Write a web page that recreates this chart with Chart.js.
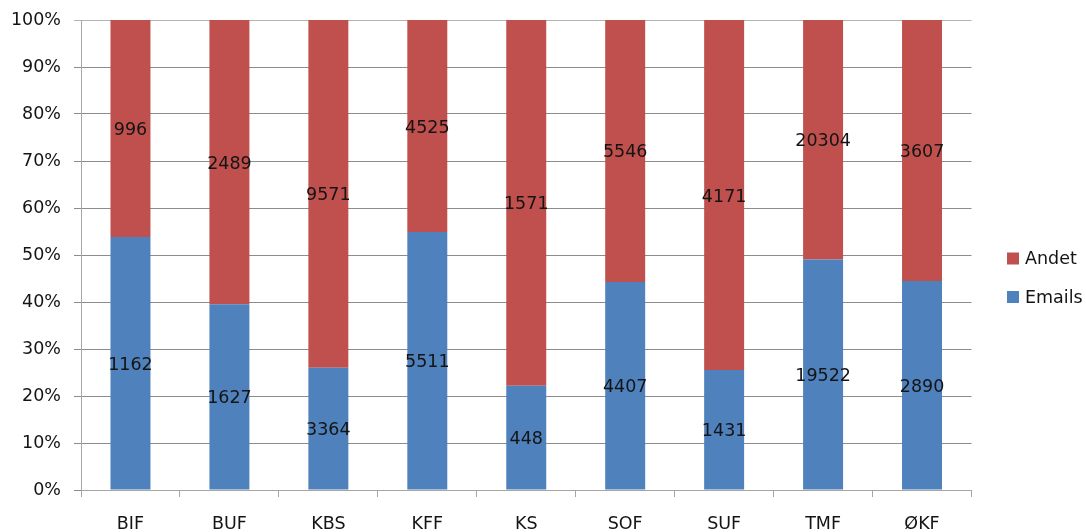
<!DOCTYPE html>
<html>
<head>
<meta charset="utf-8">
<title>Emails og andet pr. forvaltning</title>
<script src="https://cdn.jsdelivr.net/npm/chart.js@4.4.1/dist/chart.umd.min.js"></script>
<style>
  html, body { margin: 0; padding: 0; background: #ffffff; }
  #wrap { width: 1086px; height: 532px; position: relative; }
</style>
</head>
<body>
<div id="wrap"><canvas id="c" width="1086" height="532"></canvas></div>
<script>
// Departments along the x axis
const categories = ['BIF', 'BUF', 'KBS', 'KFF', 'KS', 'SOF', 'SUF', 'TMF', 'ØKF'];
// Absolute counts per department
const emails = [1162, 1627, 3364, 5511, 448, 4407, 1431, 19522, 2890];
const andet  = [996, 2489, 9571, 4525, 1571, 5546, 4171, 20304, 3607];
// Y axis ticks (percent of each department's total)
const yTicks = [0, 10, 20, 30, 40, 50, 60, 70, 80, 90, 100];

const FONT = 'DejaVu Sans';
const TEXT = '#141414';
const BLUE = '#4f81bd';
const RED = '#c0504d';

// Each bar is normalised to 100 %, the raw count is kept for the label
const totals = emails.map((v, i) => v + andet[i]);
const pct = arr => arr.map((v, i) => v / totals[i] * 100);

// Centred value labels showing the raw counts
const valueLabels = {
  id: 'valueLabels',
  afterDatasetsDraw(chart) {
    const ctx = chart.ctx;
    ctx.save();
    ctx.font = '17.5px "' + FONT + '"';
    ctx.fillStyle = TEXT;
    ctx.textAlign = 'center';
    ctx.textBaseline = 'middle';
    chart.data.datasets.forEach((ds, di) => {
      const meta = chart.getDatasetMeta(di);
      meta.data.forEach((bar, i) => {
        const cy = (bar.y + bar.base) / 2 + 2;
        ctx.fillText(String(ds.raw[i]), bar.x, cy);
      });
    });
    ctx.restore();
  }
};

// Legend on the right, listed top series first
const sideLegend = {
  id: 'sideLegend',
  afterDraw(chart) {
    const ctx = chart.ctx;
    const items = chart.data.datasets.slice().reverse();
    const x = 1007, y0 = 258.5, step = 38.5, box = 12;
    ctx.save();
    ctx.font = '17.5px "' + FONT + '"';
    ctx.textBaseline = 'middle';
    ctx.textAlign = 'left';
    items.forEach((ds, k) => {
      const y = y0 + k * step;
      ctx.fillStyle = ds.backgroundColor;
      ctx.fillRect(x, y - box / 2, box, box);
      ctx.fillStyle = TEXT;
      ctx.fillText(ds.label, x + box + 6, y + 1);
    });
    ctx.restore();
  }
};

new Chart(document.getElementById('c'), {
  type: 'bar',
  data: {
    labels: categories,
    datasets: [
      { label: 'Emails', data: pct(emails), raw: emails, backgroundColor: BLUE,
        barPercentage: 0.404, categoryPercentage: 1.0 },
      { label: 'Andet', data: pct(andet), raw: andet, backgroundColor: RED,
        barPercentage: 0.404, categoryPercentage: 1.0 }
    ]
  },
  options: {
    responsive: false,
    animation: false,
    devicePixelRatio: 1,
    layout: { padding: { top: 20, right: 114.5, bottom: 0, left: 0 } },
    plugins: {
      legend: { display: false },
      tooltip: { enabled: false }
    },
    scales: {
      x: {
        stacked: true,
        border: { color: '#a6a6a6', width: 1 },
        grid: { display: true, drawOnChartArea: false, tickLength: 7, color: '#a6a6a6', offset: true },
        ticks: { color: TEXT, font: { family: FONT, size: 17.5 }, padding: 17, maxRotation: 0 },
        afterFit(scale) { scale.height = 42; }
      },
      y: {
        stacked: true,
        min: 0,
        max: 100,
        afterBuildTicks(scale) { scale.ticks = yTicks.map(v => ({ value: v })); },
        border: { color: '#a6a6a6', width: 1 },
        grid: {
          color: ctx => (ctx.tick && ctx.tick.value === 100) ? '#b4b4b4' : '#8c8c8c',
          tickLength: 7,
          lineWidth: 1
        },
        ticks: {
          color: TEXT,
          font: { family: FONT, size: 17.5 },
          padding: 13,
          callback: v => v + '%'
        },
        afterFit(scale) {
          scale.width = 81;
          scale.paddingTop = 0;
          scale.paddingBottom = 0;
        }
      }
    }
  },
  plugins: [valueLabels, sideLegend]
});
</script>
</body>
</html>
